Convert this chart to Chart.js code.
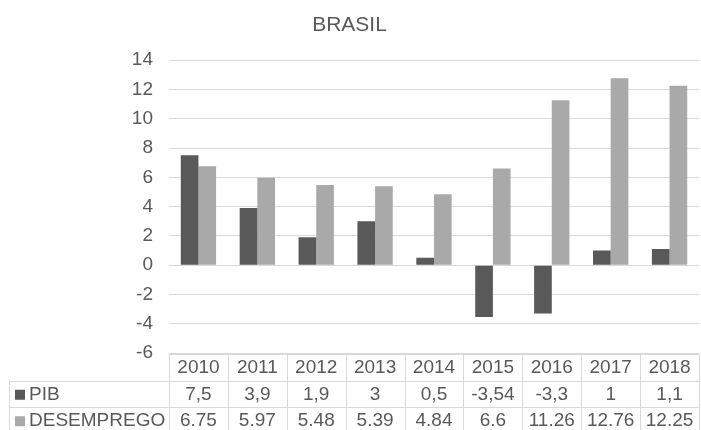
<!DOCTYPE html>
<html>
<head>
<meta charset="utf-8">
<script src="https://cdn.jsdelivr.net/npm/chart.js@4.4.1/dist/chart.umd.min.js"></script>
<style>
  html, body { margin: 0; padding: 0; background: #fff; }
  #wrap { width: 701px; height: 430px; position: relative; }
</style>
</head>
<body>
<div id="wrap"><canvas id="chart"></canvas></div>
<script>
const years = ["2010", "2011", "2012", "2013", "2014", "2015", "2016", "2017", "2018"];
const pib = [7.5, 3.9, 1.9, 3, 0.5, -3.54, -3.3, 1, 1.1];
const desemprego = [6.75, 5.97, 5.48, 5.39, 4.84, 6.6, 11.26, 12.76, 12.25];
const yTicks = [-6, -4, -2, 0, 2, 4, 6, 8, 10, 12, 14];

const TEXT = "#595959";
const GRID = "#D9D9D9";
const FONT = "'Liberation Sans', Arial, sans-serif";

// data table under the plot, columns follow the x scale
const dataTable = {
  id: "dataTable",
  afterDraw(chart) {
    const ctx = chart.ctx;
    const x = chart.scales.x;
    const area = chart.chartArea;
    const colW = x.width / years.length;
    const top = area.bottom + 1;
    const rowH = 26.5;
    const leftEdge = 9;
    const rows = [
      { label: "PIB", color: chart.data.datasets[0].backgroundColor, values: pib.map(v => String(v).replace(".", ",")) },
      { label: "DESEMPREGO", color: chart.data.datasets[1].backgroundColor, values: desemprego.map(v => String(v)) }
    ];

    ctx.save();
    ctx.strokeStyle = GRID;
    ctx.lineWidth = 1;
    ctx.beginPath();
    // header top line
    ctx.moveTo(x.left, top + 0.5); ctx.lineTo(x.right, top + 0.5);
    // row lines
    for (let r = 1; r <= rows.length; r++) {
      const y = Math.round(top + r * rowH) + 0.5;
      ctx.moveTo(leftEdge, y); ctx.lineTo(x.right, y);
    }
    // vertical lines
    for (let i = 0; i <= years.length; i++) {
      const xx = Math.round(x.left + i * colW) + 0.5;
      ctx.moveTo(xx, top); ctx.lineTo(xx, chart.height);
    }
    ctx.moveTo(leftEdge + 0.5, top + rowH); ctx.lineTo(leftEdge + 0.5, chart.height);
    ctx.stroke();

    ctx.fillStyle = TEXT;
    ctx.font = "19px " + FONT;
    ctx.textAlign = "center";
    ctx.textBaseline = "middle";
    years.forEach((yr, i) => {
      ctx.fillText(yr, x.getPixelForValue(i), top + rowH / 2 + 1);
    });
    rows.forEach((row, r) => {
      const cy = top + rowH * (r + 1) + rowH / 2 + 1;
      ctx.fillStyle = row.color;
      ctx.fillRect(15, cy - 5, 10, 10);
      ctx.fillStyle = TEXT;
      ctx.textAlign = "left";
      ctx.fillText(row.label, 29, cy);
      ctx.textAlign = "center";
      row.values.forEach((v, i) => {
        ctx.fillText(v, x.getPixelForValue(i), cy);
      });
    });
    ctx.restore();
  }
};

new Chart(document.getElementById("chart"), {
  type: "bar",
  data: {
    labels: years,
    datasets: [
      { label: "PIB", data: pib, backgroundColor: "#595959" },
      { label: "DESEMPREGO", data: desemprego, backgroundColor: "#A9A9A9" }
    ]
  },
  options: {
    responsive: true,
    maintainAspectRatio: false,
    animation: false,
    datasets: { bar: { barPercentage: 1, categoryPercentage: 0.6 } },
    layout: { padding: { left: 0, right: 2, top: 0, bottom: 77 } },
    plugins: {
      legend: { display: false },
      tooltip: { enabled: false },
      title: {
        display: true,
        text: "BRASIL",
        color: TEXT,
        font: { family: FONT, size: 21, weight: "normal" },
        padding: { top: 13, bottom: 22 }
      }
    },
    scales: {
      x: {
        display: false,
        offset: true
      },
      y: {
        min: -6,
        max: 14,
        afterBuildTicks: (s) => { s.ticks = yTicks.map(v => ({ value: v })); },
        afterFit: (s) => { s.width = 169; },
        border: { display: false },
        grid: { color: GRID, drawTicks: false },
        ticks: { color: TEXT, padding: 16, font: { family: FONT, size: 19 } }
      }
    }
  },
  plugins: [dataTable]
});
</script>
</body>
</html>
